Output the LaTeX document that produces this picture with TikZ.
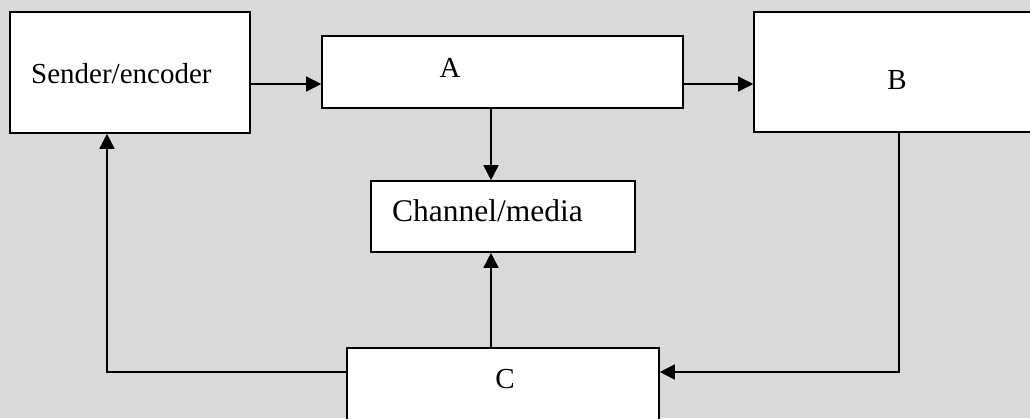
\documentclass[tikz,border=0pt]{standalone}
\usepackage{fontspec}
\setmainfont{Liberation Serif}
\usetikzlibrary{arrows.meta}
\definecolor{bg}{HTML}{D9D9D9}
\begin{document}
\begin{tikzpicture}[x=1pt,y=-1pt,
  box/.style={draw=black,fill=white,line width=1.6pt,inner sep=0pt,rectangle},
  lbl/.style={font=\fontsize{29}{31}\selectfont,inner sep=0pt},
  biglbl/.style={font=\fontsize{31.5}{33}\selectfont,inner sep=0pt},
  conn/.style={line width=1.6pt,-{Triangle[length=15pt,width=15pt]}}]
\fill[bg] (0,0) rectangle (1030,418);
\useasboundingbox (0,0) rectangle (1030,418);
\node[box,minimum width=240pt,minimum height=121pt] (sender) at (130,72.5) {};
\node[box,minimum width=361pt,minimum height=72pt] (A) at (502.5,72) {};
\node[box,minimum width=286pt,minimum height=120pt] (B) at (897,72) {};
\node[box,minimum width=264pt,minimum height=71pt] (channel) at (503,216.5) {};
\node[box,minimum width=312pt,minimum height=82pt] (C) at (503,389) {};
\node[lbl,anchor=base west] (tsender) at (31,83) {Sender/encoder};
\node[lbl,anchor=base] (tA) at (450,77) {A};
\node[lbl,anchor=base] (tB) at (897,89) {B};
\node[biglbl,anchor=base west] (tchannel) at (392,221) {Channel/media};
\node[lbl,anchor=base] (tC) at (505,388) {C};
\draw[conn] ([yshift=-11.5pt]sender.east) -- ([yshift=-11.5pt]sender.east -| A.west);
\draw[conn] ([yshift=-12pt]A.east) -- ([yshift=-12pt]A.east -| B.west);
\draw[conn] ([xshift=-11.5pt]A.south) -- ([xshift=-11.5pt]A.south |- channel.north);
\draw[conn] ([xshift=-12pt]C.north) -- ([xshift=-12pt]C.north |- channel.south);
\draw[conn] ([xshift=2pt]B.south) |- ([yshift=17pt]C.east);
\draw[conn] ([yshift=17pt]C.west) -| ([xshift=-23pt]sender.south);
\end{tikzpicture}
\end{document}
